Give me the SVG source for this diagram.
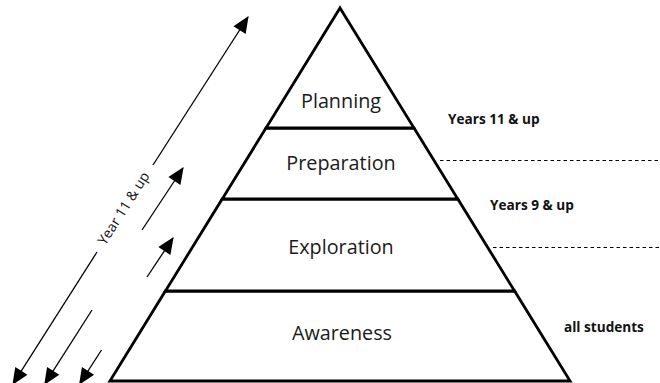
<svg xmlns="http://www.w3.org/2000/svg" width="660" height="383" viewBox="0 0 660 383">
<defs>
<marker id="ah" markerUnits="userSpaceOnUse" markerWidth="20" markerHeight="20" viewBox="-16 -8 18 16" refX="0" refY="0" orient="auto">
<path d="M1,0 L-14,-6.5 L-14,6.5 Z" fill="#000"/>
</marker>
<style>
.layer{fill:#fff;stroke:#000;stroke-width:2.8;stroke-linejoin:miter}
.lbl{font-family:"Open Sans","Noto Sans",sans-serif;font-size:19.8px;fill:#1a1a1a;text-anchor:middle}
.side{font-family:"Open Sans","Noto Sans",sans-serif;font-size:13.6px;font-weight:bold;fill:#111}
.arr{fill:none;stroke:#000;stroke-width:1.3;marker-end:url(#ah)}
.dash{fill:none;stroke:#000;stroke-width:1;stroke-dasharray:3.5 3}
.alab{font-family:"Open Sans","Noto Sans",sans-serif;font-size:14px;fill:#111;text-anchor:middle;dominant-baseline:central}
</style>
</defs>
<rect width="660" height="383" fill="#fff"/>
<g id="awareness">
<polygon class="layer" points="165.4,291 514.6,291 570.1,381 109.9,381"/>
<text class="lbl" x="342" y="340">Awareness</text>
</g>
<g id="exploration">
<polygon class="layer" points="222.2,199 457.8,199 514.6,291 165.4,291"/>
<text class="lbl" x="341" y="254">Exploration</text>
</g>
<g id="preparation">
<polygon class="layer" points="266,128 414,128 457.8,199 222.2,199"/>
<text class="lbl" x="341" y="170">Preparation</text>
</g>
<g id="planning">
<polygon class="layer" points="340,8 414,128 266,128"/>
<text class="lbl" x="341" y="108">Planning</text>
</g>
<g id="connectors">
<path class="arr" d="M97,252 L13,384"/>
<path class="arr" d="M153,165 L248,17"/>
<path class="arr" d="M92,310 L44.8,384"/>
<path class="arr" d="M142,230 L183,168"/>
<path class="arr" d="M101.5,350 L79.6,384"/>
<path class="arr" d="M147,277 L173,238"/>
<line class="dash" x1="440" y1="160.5" x2="660" y2="160.5"/>
<line class="dash" x1="493" y1="247.5" x2="660" y2="247.5"/>
</g>
<g id="year11-label">
<text class="alab" transform="translate(123,208) rotate(-57.4)">Year 11 &amp; up</text>
</g>
<g id="side-labels">
<text class="side" x="448" y="124">Years 11 &amp; up</text>
<text class="side" x="490" y="210">Years 9 &amp; up</text>
<text class="side" x="564" y="332">all students</text>
</g>
</svg>
